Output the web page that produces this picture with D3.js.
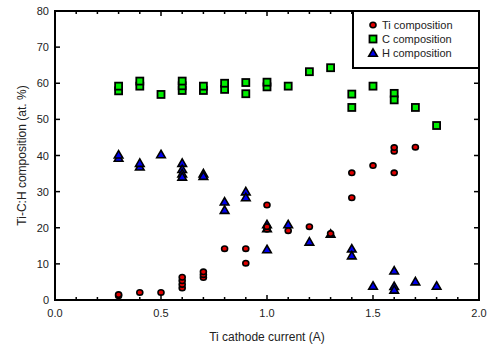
<!DOCTYPE html>
<html>
<head>
<meta charset="utf-8">
<script src="https://cdn.jsdelivr.net/npm/d3@7"></script>
<style>
  body { margin: 0; background: #fff; }
  text { font-family: "Liberation Sans", Arial, sans-serif; }
</style>
</head>
<body>
<div id="chart"></div>
<script>
// data: [current (A), composition (at. %)]
const tiData = [
  [0.3, 1.2], [0.3, 1.5], [0.4, 2.1], [0.5, 2.1],
  [0.6, 3.3], [0.6, 4.3], [0.6, 5.3], [0.6, 6.3],
  [0.7, 6.2], [0.7, 7.0], [0.7, 7.8],
  [0.8, 14.2], [0.9, 14.2], [0.9, 10.2],
  [1.0, 26.3], [1.0, 19.6], [1.0, 20.3],
  [1.1, 19.2], [1.2, 20.3], [1.3, 18.4],
  [1.4, 35.2], [1.4, 28.3], [1.5, 37.2],
  [1.6, 35.2], [1.6, 41.2], [1.6, 42.2], [1.7, 42.3]
];
const cData = [
  [0.3, 57.9], [0.3, 59.2], [0.4, 59.2], [0.4, 60.6], [0.5, 56.9],
  [0.6, 58.0], [0.6, 59.3], [0.6, 60.6], [0.7, 58.0], [0.7, 59.2],
  [0.8, 58.3], [0.8, 60.0], [0.9, 57.1], [0.9, 60.2],
  [1.0, 59.0], [1.0, 60.3], [1.1, 59.2], [1.2, 63.2], [1.3, 64.3],
  [1.4, 57.0], [1.4, 53.3], [1.5, 59.2], [1.6, 57.2], [1.6, 55.4],
  [1.7, 53.3], [1.8, 48.3]
];
const hData = [
  [0.3, 39.3], [0.3, 40.2], [0.4, 36.9], [0.4, 37.9], [0.5, 40.3],
  [0.6, 37.9], [0.6, 36.2], [0.6, 35.0], [0.6, 34.1],
  [0.7, 35.0], [0.7, 34.3], [0.8, 27.2], [0.8, 24.9],
  [0.9, 30.0], [0.9, 28.4], [1.0, 20.9], [1.0, 19.8], [1.0, 14.0],
  [1.1, 20.9], [1.2, 16.1], [1.3, 18.3], [1.4, 14.2], [1.4, 12.3],
  [1.5, 3.9], [1.6, 8.1], [1.6, 3.8], [1.6, 2.8], [1.7, 5.1], [1.8, 3.9]
];
const xTicks = [0.0, 0.5, 1.0, 1.5, 2.0];
const yTicks = [0, 10, 20, 30, 40, 50, 60, 70, 80];
const legendLabels = ["Ti composition", "C composition", "H composition"];

const width = 490, height = 350;
const margin = {left: 55, right: 11, top: 11, bottom: 50};

const svg = d3.select("#chart").append("svg")
    .attr("width", width)
    .attr("height", height);

const x = d3.scaleLinear().domain([0, 2]).range([margin.left, width - margin.right]);
const y = d3.scaleLinear().domain([0, 80]).range([height - margin.bottom, margin.top]);

const x0 = x.range()[0], x1 = x.range()[1];
const yb = y.range()[0], yt = y.range()[1];

// ticks (all pointing inward)
const minor = d3.range(1, 20).map(d => d / 10).filter(d => Math.round(d * 10) % 5 !== 0);
const tickG = svg.append("g").attr("stroke", "#000").attr("stroke-width", 1.5);
minor.forEach(v => {
  tickG.append("line").attr("x1", x(v)).attr("x2", x(v)).attr("y1", yb).attr("y2", yb - 3);
  tickG.append("line").attr("x1", x(v)).attr("x2", x(v)).attr("y1", yt).attr("y2", yt + 3);
});
xTicks.forEach(v => {
  tickG.append("line").attr("x1", x(v)).attr("x2", x(v)).attr("y1", yb).attr("y2", yb - 5);
  tickG.append("line").attr("x1", x(v)).attr("x2", x(v)).attr("y1", yt).attr("y2", yt + 5);
});
yTicks.forEach(v => {
  tickG.append("line").attr("x1", x0).attr("x2", x0 + 5).attr("y1", y(v)).attr("y2", y(v));
  tickG.append("line").attr("x1", x1).attr("x2", x1 - 5).attr("y1", y(v)).attr("y2", y(v));
});

// tick labels
svg.append("g").selectAll("text").data(xTicks).join("text")
    .attr("x", d => x(d)).attr("y", yb + 17)
    .attr("text-anchor", "middle")
    .attr("font-size", 11).attr("fill", "#222")
    .text(d => d.toFixed(1));
svg.append("g").selectAll("text").data(yTicks).join("text")
    .attr("x", x0 - 6).attr("y", d => y(d) + 4)
    .attr("text-anchor", "end")
    .attr("font-size", 11).attr("fill", "#222")
    .text(d => d);

// frame
svg.append("rect")
    .attr("x", x0).attr("y", yt)
    .attr("width", x1 - x0).attr("height", yb - yt)
    .attr("fill", "none").attr("stroke", "#000").attr("stroke-width", 2);

// axis titles
svg.append("text")
    .attr("x", (x0 + x1) / 2).attr("y", 341)
    .attr("text-anchor", "middle").attr("font-size", 12).attr("fill", "#222")
    .text("Ti cathode current (A)");
svg.append("text")
    .attr("transform", `translate(26,${(yt + yb) / 2}) rotate(-90)`)
    .attr("text-anchor", "middle").attr("font-size", 12).attr("fill", "#222")
    .text("Ti-C:H composition (at. %)");

// markers
function drawTi(g, px, py) {
  g.append("ellipse").attr("cx", px).attr("cy", py).attr("rx", 3).attr("ry", 2.7)
    .attr("fill", "#e00000").attr("stroke", "#000").attr("stroke-width", 1.6);
}
function drawC(g, px, py) {
  g.append("rect").attr("x", px - 3.5).attr("y", py - 3.5).attr("width", 7).attr("height", 7)
    .attr("fill", "#00ee00").attr("stroke", "#000").attr("stroke-width", 1.8);
}
const tri = d3.symbol().type(d3.symbolTriangle).size(32);
function drawH(g, px, py) {
  g.append("path").attr("d", tri()).attr("transform", `translate(${px},${py + 0.8})`)
    .attr("fill", "#0000ee").attr("stroke", "#000").attr("stroke-width", 1.6)
    .attr("stroke-linejoin", "miter");
}

const pts = svg.append("g");
cData.forEach(d => drawC(pts, x(d[0]), y(d[1])));
hData.forEach(d => drawH(pts, x(d[0]), y(d[1])));
tiData.forEach(d => drawTi(pts, x(d[0]), y(d[1])));

// legend
const lg = svg.append("g");
lg.append("rect")
    .attr("x", 353).attr("y", yt)
    .attr("width", x1 - 353).attr("height", 57)
    .attr("fill", "#fff").attr("stroke", "#000").attr("stroke-width", 2);
const drawers = [drawTi, drawC, drawH];
legendLabels.forEach((t, i) => {
  const ly = 25 + i * 14;
  drawers[i](lg, 373, ly);
  lg.append("text").attr("x", 382).attr("y", ly + 4)
    .attr("font-size", 11).attr("fill", "#222").text(t);
});
</script>
</body>
</html>
